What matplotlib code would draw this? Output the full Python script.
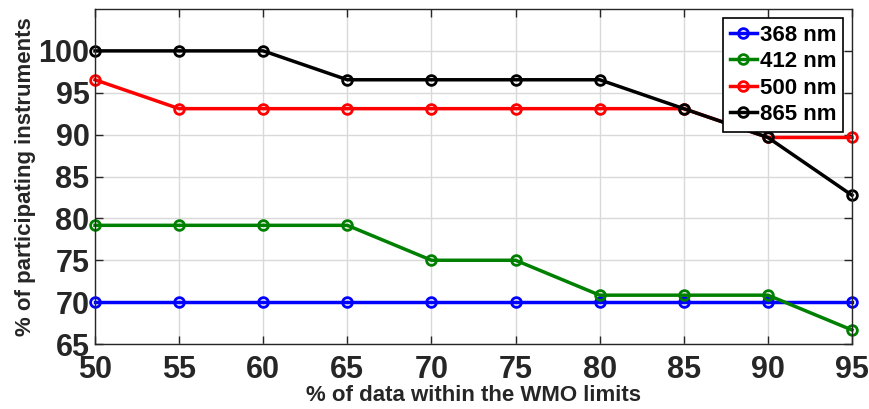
import numpy as np
import matplotlib.pyplot as plt

plt.rcParams['font.family'] = ['Liberation Sans', 'DejaVu Sans']
plt.rcParams['font.weight'] = 'bold'

x = [50, 55, 60, 65, 70, 75, 80, 85, 90, 95]
nm368 = [70, 70, 70, 70, 70, 70, 70, 70, 70, 70]
nm412 = [79.17, 79.17, 79.17, 79.17, 75, 75, 70.83, 70.83, 70.83, 66.67]
nm500 = [96.55, 93.10, 93.10, 93.10, 93.10, 93.10, 93.10, 93.10, 89.66, 89.66]
nm865 = [100, 100, 100, 96.55, 96.55, 96.55, 96.55, 93.10, 89.66, 82.76]

series = [('368 nm', nm368, '#0000ff'), ('412 nm', nm412, '#008000'),
          ('500 nm', nm500, '#ff0000'), ('865 nm', nm865, '#000000')]

fig = plt.figure(figsize=(8.7, 4.09), dpi=100)
ax = fig.add_axes([95/870, 1-344/409, (852-95)/870, (344-9)/409])

for name, vals, c in series:
    ax.plot(x, vals, '-o', color=c, lw=2.5, ms=7, mfc='none', mew=2, label=name, clip_on=False)

ax.set_xlim(50, 95)
ax.set_ylim(65, 105)
ax.set_xticks(range(50, 96, 5))
ax.set_yticks(range(65, 101, 5))
ax.grid(True, color='#d9d9d9', lw=1)
ax.set_axisbelow(True)
ax.tick_params(direction='in', top=True, right=True, length=6, width=1, labelsize=22, colors='#262626')
ax.tick_params(axis='x', pad=8)
ax.tick_params(axis='y', pad=4)
for lab in ax.get_xticklabels() + ax.get_yticklabels():
    lab.set_fontweight('bold')
for sp in ax.spines.values():
    sp.set_color('#262626')
    sp.set_linewidth(1)

ax.set_xlabel('% of data within the WMO limits', fontsize=16, fontweight='bold', color='#262626', labelpad=0)
ax.set_ylabel('% of participating instruments', fontsize=16, fontweight='bold', color='#262626', labelpad=2)

leg = ax.legend(loc='upper right', fontsize=16, fancybox=False, edgecolor='black', framealpha=1,
                handlelength=1.2, handletextpad=0.15, borderpad=0.3, labelspacing=0.25,
                borderaxespad=0.4)
leg.get_frame().set_linewidth(1.2)
for t in leg.get_texts():
    t.set_fontweight('bold')

plt.savefig('out.png', dpi=100)
